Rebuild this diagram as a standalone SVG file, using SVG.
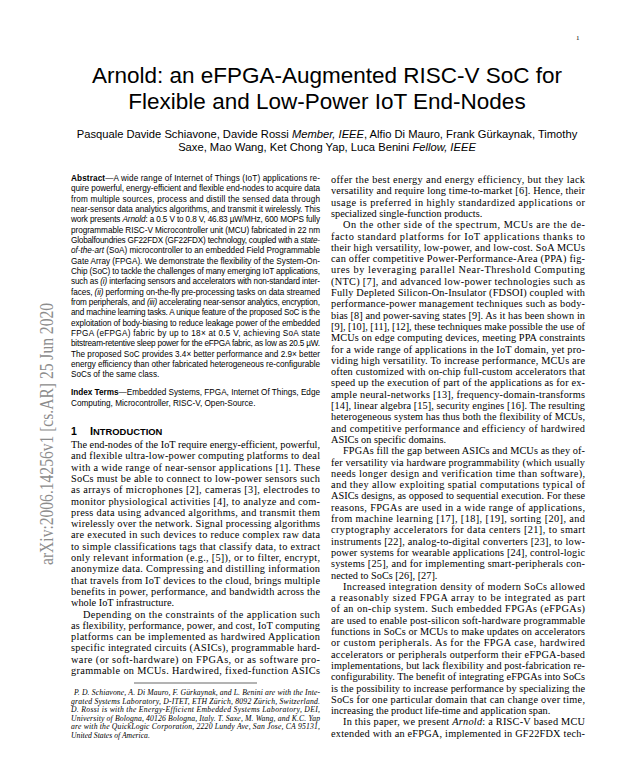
<svg xmlns="http://www.w3.org/2000/svg" width="623" height="781" viewBox="0 0 623 781">
<style>
.ti{font-family:"Liberation Sans",Arial,sans-serif;font-size:22.5px;fill:#000}
.au{font-family:"Liberation Sans",Arial,sans-serif;font-size:11.2px;fill:#000}
.ab{font-family:"Liberation Sans",Arial,sans-serif;font-size:8.2px;fill:#000}
.bd{font-family:"Liberation Serif","Times New Roman",serif;font-size:10.3px;fill:#000}
.fn{font-family:"Liberation Serif","Times New Roman",serif;font-size:7.7px;font-style:italic;fill:#000}
.hd{font-family:"Liberation Sans",Arial,sans-serif;font-weight:bold;fill:#000}
.ax{font-family:"Liberation Serif","Times New Roman",serif;font-size:19px;fill:#8c8c8c}
.pg{font-family:"Liberation Serif","Times New Roman",serif;font-size:7px;fill:#000}
.i{font-style:italic}
.b{font-weight:bold}
</style>
<rect width="623" height="781" fill="#fff"/>
<g id="pagenum"><text class="pg" x="576" y="40">1</text></g>
<g id="arxiv"><text class="ax" transform="translate(53,565) rotate(-90)" x="0" y="0" textLength="262" lengthAdjust="spacingAndGlyphs">arXiv:2006.14256v1  [cs.AR]  25 Jun 2020</text></g>
<g id="title">
<text class="ti" x="327" y="83" text-anchor="middle">Arnold: an eFPGA-Augmented RISC-V SoC for</text>
<text class="ti" x="327" y="109" text-anchor="middle">Flexible and Low-Power IoT End-Nodes</text>
</g>
<g id="authors">
<text class="au" x="327" y="138" text-anchor="middle">Pasquale Davide Schiavone, Davide Rossi <tspan class="i">Member, IEEE</tspan>, Alfio Di Mauro, Frank Gürkaynak, Timothy</text>
<text class="au" x="327" y="151" text-anchor="middle">Saxe, Mao Wang, Ket Chong Yap, Luca Benini <tspan class="i">Fellow, IEEE</tspan></text>
</g>
<g id="abstract" class="ab">
<text x="71" y="181" textLength="249" lengthAdjust="spacing"><tspan class="b">Abstract</tspan>—A wide range of Internet of Things (IoT) applications re-</text>
<text x="71" y="191.3" textLength="249" lengthAdjust="spacing">quire powerful, energy-efficient and flexible end-nodes to acquire data</text>
<text x="71" y="201.7" textLength="249" lengthAdjust="spacing">from multiple sources, process and distill the sensed data through</text>
<text x="71" y="212" textLength="249" lengthAdjust="spacing">near-sensor data analytics algorithms, and transmit it wirelessly. This</text>
<text x="71" y="222.3" textLength="249" lengthAdjust="spacing">work presents <tspan class="i">Arnold</tspan>: a 0.5 V to 0.8 V, 46.83 µW/MHz, 600 MOPS fully</text>
<text x="71" y="232.7" textLength="249" lengthAdjust="spacing">programmable RISC-V Microcontroller unit (MCU) fabricated in 22 nm</text>
<text x="71" y="243" textLength="249" lengthAdjust="spacing">Globalfoundries GF22FDX (GF22FDX) technology, coupled with a <tspan class="i">state-</tspan></text>
<text x="71" y="253.3" textLength="249" lengthAdjust="spacing"><tspan class="i">of-the-art</tspan> (SoA) microcontroller to an embedded Field Programmable</text>
<text x="71" y="263.6" textLength="249" lengthAdjust="spacing">Gate Array (FPGA). We demonstrate the flexibility of the System-On-</text>
<text x="71" y="274" textLength="249" lengthAdjust="spacing">Chip (SoC) to tackle the challenges of many emerging IoT applications,</text>
<text x="71" y="284.3" textLength="249" lengthAdjust="spacing">such as <tspan class="i">(i)</tspan> interfacing sensors and accelerators with non-standard inter-</text>
<text x="71" y="294.6" textLength="249" lengthAdjust="spacing">faces, <tspan class="i">(ii)</tspan> performing on-the-fly pre-processing tasks on data streamed</text>
<text x="71" y="305" textLength="249" lengthAdjust="spacing">from peripherals, and <tspan class="i">(iii)</tspan> accelerating near-sensor analytics, encryption,</text>
<text x="71" y="315.3" textLength="249" lengthAdjust="spacing">and machine learning tasks. A unique feature of the proposed SoC is the</text>
<text x="71" y="325.6" textLength="249" lengthAdjust="spacing">exploitation of body-biasing to reduce leakage power of the embedded</text>
<text x="71" y="336" textLength="249" lengthAdjust="spacing">FPGA (eFPGA) fabric by up to 18× at 0.5 V, achieving SoA state</text>
<text x="71" y="346.3" textLength="249" lengthAdjust="spacing">bitstream-retentive sleep power for the eFPGA fabric, as low as 20.5 µW.</text>
<text x="71" y="356.6" textLength="249" lengthAdjust="spacing">The proposed SoC provides 3.4× better performance and 2.9× better</text>
<text x="71" y="367" textLength="249" lengthAdjust="spacing">energy efficiency than other fabricated heterogeneous re-configurable</text>
<text x="71" y="377.3">SoCs of the same class.</text>
</g>
<g id="index-terms" class="ab">
<text x="71" y="395" textLength="249" lengthAdjust="spacing"><tspan class="b">Index Terms</tspan>—Embedded Systems, FPGA, Internet Of Things, Edge</text>
<text x="71" y="406">Computing, Microcontroller, RISC-V, Open-Source.</text>
</g>
<g id="heading">
<text class="hd" x="71" y="435" font-size="10.5">1<tspan x="90" font-size="11">I</tspan><tspan font-size="9.4">NTRODUCTION</tspan></text>
</g>
<g id="intro-left" class="bd">
<text x="71" y="448" textLength="249" lengthAdjust="spacing">The end-nodes of the IoT require energy-efficient, powerful,</text>
<text x="71" y="459.3" textLength="249" lengthAdjust="spacing">and flexible ultra-low-power computing platforms to deal</text>
<text x="71" y="470.6" textLength="249" lengthAdjust="spacing">with a wide range of near-sensor applications [1]. These</text>
<text x="71" y="481.9" textLength="249" lengthAdjust="spacing">SoCs must be able to connect to low-power sensors such</text>
<text x="71" y="493.2" textLength="249" lengthAdjust="spacing">as arrays of microphones [2], cameras [3], electrodes to</text>
<text x="71" y="504.5" textLength="249" lengthAdjust="spacing">monitor physiological activities [4], to analyze and com-</text>
<text x="71" y="515.8" textLength="249" lengthAdjust="spacing">press data using advanced algorithms, and transmit them</text>
<text x="71" y="527.1" textLength="249" lengthAdjust="spacing">wirelessly over the network. Signal processing algorithms</text>
<text x="71" y="538.4" textLength="249" lengthAdjust="spacing">are executed in such devices to reduce complex raw data</text>
<text x="71" y="549.7" textLength="249" lengthAdjust="spacing">to simple classifications tags that classify data, to extract</text>
<text x="71" y="561" textLength="249" lengthAdjust="spacing">only relevant information (e.g., [5]), or to filter, encrypt,</text>
<text x="71" y="572.3" textLength="249" lengthAdjust="spacing">anonymize data. Compressing and distilling information</text>
<text x="71" y="583.6" textLength="249" lengthAdjust="spacing">that travels from IoT devices to the cloud, brings multiple</text>
<text x="71" y="594.9" textLength="249" lengthAdjust="spacing">benefits in power, performance, and bandwidth across the</text>
<text x="71" y="606.2">whole IoT infrastructure.</text>
<text x="83" y="617.5" textLength="237" lengthAdjust="spacing">Depending on the constraints of the application such</text>
<text x="71" y="628.8" textLength="249" lengthAdjust="spacing">as flexibility, performance, power, and cost, IoT computing</text>
<text x="71" y="640.1" textLength="249" lengthAdjust="spacing">platforms can be implemented as hardwired Application</text>
<text x="71" y="651.4" textLength="249" lengthAdjust="spacing">specific integrated circuits (ASICs), programmable hard-</text>
<text x="71" y="662.7" textLength="249" lengthAdjust="spacing">ware (or soft-hardware) on FPGAs, or as software pro-</text>
<text x="71" y="674" textLength="249" lengthAdjust="spacing">grammable on MCUs. Hardwired, fixed-function ASICs</text>
</g>
<g id="footnote">
<line x1="134" y1="683" x2="257" y2="683" stroke="#000" stroke-width="0.6"/>
<g class="fn">
<text x="74" y="695" textLength="246" lengthAdjust="spacing">P. D. Schiavone, A. Di Mauro, F. Gürkaynak, and L. Benini are with the Inte-</text>
<text x="71" y="703.6" textLength="249" lengthAdjust="spacing">grated Systems Laboratory, D-ITET, ETH Zürich, 8092 Zürich, Switzerland.</text>
<text x="71" y="712.2" textLength="249" lengthAdjust="spacing">D. Rossi is with the Energy-Efficient Embedded Systems Laboratory, DEI,</text>
<text x="71" y="720.8" textLength="249" lengthAdjust="spacing">University of Bologna, 40126 Bologna, Italy. T. Saxe, M. Wang, and K.C. Yap</text>
<text x="71" y="729.4" textLength="249" lengthAdjust="spacing">are with the QuickLogic Corporation, 2220 Lundy Ave, San Jose, CA 95131,</text>
<text x="71" y="738">United States of America.</text>
</g>
</g>
<g id="intro-right" class="bd">
<text x="331" y="183" textLength="254" lengthAdjust="spacing">offer the best energy and energy efficiency, but they lack</text>
<text x="331" y="194.3" textLength="254" lengthAdjust="spacing">versatility and require long time-to-market [6]. Hence, their</text>
<text x="331" y="205.6" textLength="254" lengthAdjust="spacing">usage is preferred in highly standardized applications or</text>
<text x="331" y="216.9">specialized single-function products.</text>
<text x="343" y="228.2" textLength="242" lengthAdjust="spacing">On the other side of the spectrum, MCUs are the de-</text>
<text x="331" y="239.5" textLength="254" lengthAdjust="spacing">facto standard platforms for IoT applications thanks to</text>
<text x="331" y="250.8" textLength="254" lengthAdjust="spacing">their high versatility, low-power, and low-cost. SoA MCUs</text>
<text x="331" y="262.1" textLength="254" lengthAdjust="spacing">can offer competitive Power-Performance-Area (PPA) fig-</text>
<text x="331" y="273.4" textLength="254" lengthAdjust="spacing">ures by leveraging parallel Near-Threshold Computing</text>
<text x="331" y="284.7" textLength="254" lengthAdjust="spacing">(NTC) [7], and advanced low-power technologies such as</text>
<text x="331" y="296" textLength="254" lengthAdjust="spacing">Fully Depleted Silicon-On-Insulator (FDSOI) coupled with</text>
<text x="331" y="307.3" textLength="254" lengthAdjust="spacing">performance-power management techniques such as body-</text>
<text x="331" y="318.6" textLength="254" lengthAdjust="spacing">bias [8] and power-saving states [9]. As it has been shown in</text>
<text x="331" y="329.9" textLength="254" lengthAdjust="spacing">[9], [10], [11], [12], these techniques make possible the use of</text>
<text x="331" y="341.2" textLength="254" lengthAdjust="spacing">MCUs on edge computing devices, meeting PPA constraints</text>
<text x="331" y="352.5" textLength="254" lengthAdjust="spacing">for a wide range of applications in the IoT domain, yet pro-</text>
<text x="331" y="363.8" textLength="254" lengthAdjust="spacing">viding high versatility. To increase performance, MCUs are</text>
<text x="331" y="375.1" textLength="254" lengthAdjust="spacing">often customized with on-chip full-custom accelerators that</text>
<text x="331" y="386.4" textLength="254" lengthAdjust="spacing">speed up the execution of part of the applications as for ex-</text>
<text x="331" y="397.7" textLength="254" lengthAdjust="spacing">ample neural-networks [13], frequency-domain-transforms</text>
<text x="331" y="409" textLength="254" lengthAdjust="spacing">[14], linear algebra [15], security engines [16]. The resulting</text>
<text x="331" y="420.3" textLength="254" lengthAdjust="spacing">heterogeneous system has thus both the flexibility of MCUs,</text>
<text x="331" y="431.6" textLength="254" lengthAdjust="spacing">and competitive performance and efficiency of hardwired</text>
<text x="331" y="442.9">ASICs on specific domains.</text>
<text x="343" y="454.2" textLength="242" lengthAdjust="spacing">FPGAs fill the gap between ASICs and MCUs as they of-</text>
<text x="331" y="465.5" textLength="254" lengthAdjust="spacing">fer versatility via hardware programmability (which usually</text>
<text x="331" y="476.8" textLength="254" lengthAdjust="spacing">needs longer design and verification time than software),</text>
<text x="331" y="488.1" textLength="254" lengthAdjust="spacing">and they allow exploiting spatial computations typical of</text>
<text x="331" y="499.4" textLength="254" lengthAdjust="spacing">ASICs designs, as opposed to sequential execution. For these</text>
<text x="331" y="510.7" textLength="254" lengthAdjust="spacing">reasons, FPGAs are used in a wide range of applications,</text>
<text x="331" y="522" textLength="254" lengthAdjust="spacing">from machine learning [17], [18], [19], sorting [20], and</text>
<text x="331" y="533.3" textLength="254" lengthAdjust="spacing">cryptography accelerators for data centers [21], to smart</text>
<text x="331" y="544.6" textLength="254" lengthAdjust="spacing">instruments [22], analog-to-digital converters [23], to low-</text>
<text x="331" y="555.9" textLength="254" lengthAdjust="spacing">power systems for wearable applications [24], control-logic</text>
<text x="331" y="567.2" textLength="254" lengthAdjust="spacing">systems [25], and for implementing smart-peripherals con-</text>
<text x="331" y="578.5">nected to SoCs [26], [27].</text>
<text x="343" y="589.8" textLength="242" lengthAdjust="spacing">Increased integration density of modern SoCs allowed</text>
<text x="331" y="601.1" textLength="254" lengthAdjust="spacing">a reasonably sized FPGA array to be integrated as part</text>
<text x="331" y="612.4" textLength="254" lengthAdjust="spacing">of an on-chip system. Such embedded FPGAs (eFPGAs)</text>
<text x="331" y="623.7" textLength="254" lengthAdjust="spacing">are used to enable post-silicon soft-hardware programmable</text>
<text x="331" y="635" textLength="254" lengthAdjust="spacing">functions in SoCs or MCUs to make updates on accelerators</text>
<text x="331" y="646.3" textLength="254" lengthAdjust="spacing">or custom peripherals. As for the FPGA case, hardwired</text>
<text x="331" y="657.6" textLength="254" lengthAdjust="spacing">accelerators or peripherals outperform their eFPGA-based</text>
<text x="331" y="668.9" textLength="254" lengthAdjust="spacing">implementations, but lack flexibility and post-fabrication re-</text>
<text x="331" y="680.2" textLength="254" lengthAdjust="spacing">configurability. The benefit of integrating eFPGAs into SoCs</text>
<text x="331" y="691.5" textLength="254" lengthAdjust="spacing">is the possibility to increase performance by specializing the</text>
<text x="331" y="702.8" textLength="254" lengthAdjust="spacing">SoCs for one particular domain that can change over time,</text>
<text x="331" y="714.1">increasing the product life-time and application span.</text>
<text x="343" y="725.4" textLength="242" lengthAdjust="spacing">In this paper, we present <tspan class="i">Arnold</tspan>: a RISC-V based MCU</text>
<text x="331" y="736.7" textLength="254" lengthAdjust="spacing">extended with an eFPGA, implemented in GF22FDX tech-</text>
</g>
</svg>
